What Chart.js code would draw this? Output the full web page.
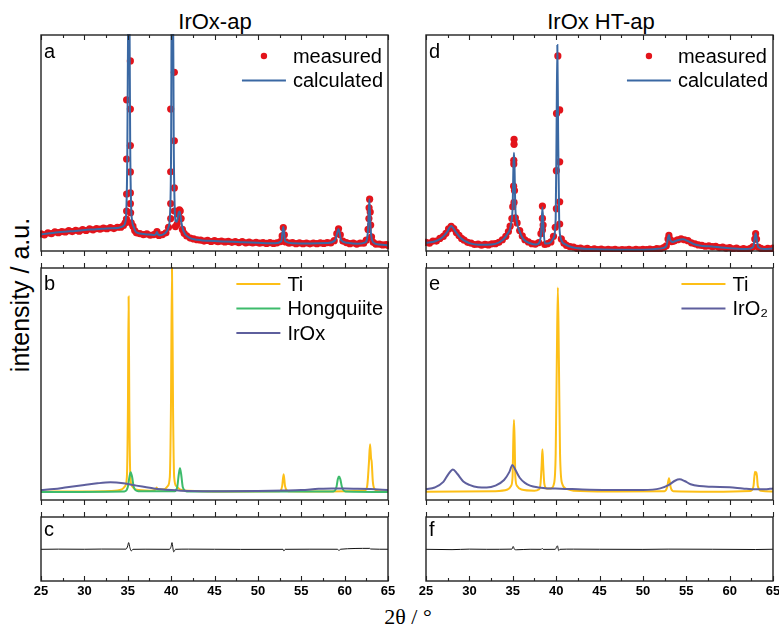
<!DOCTYPE html>
<html>
<head>
<meta charset="utf-8">
<script src="https://cdn.jsdelivr.net/npm/chart.js@4.4.0/dist/chart.umd.min.js"></script>
<style>
  body { margin: 0; background: #fff; }
  #fig { position: relative; width: 779px; height: 627px; overflow: hidden; background: #fff;
         font-family: "Liberation Sans", Arial, sans-serif; color: #000; }
  #fig canvas { position: absolute; }
  .lbl { position: absolute; white-space: nowrap; transform: translate(-50%, -50%); }
</style>
</head>
<body>
<div id="fig">
  <div class="lbl" style="left:215px;top:22px;font-size:22px">IrOx-ap</div>
  <div class="lbl" style="left:601px;top:22px;font-size:22px">IrOx HT-ap</div>
  <div class="lbl" style="left:20px;top:295px;font-size:25px;transform:translate(-50%,-50%) rotate(-90deg)">intensity / a.u.</div>
  <div class="lbl" style="left:408px;top:617px;font-size:22px;font-family:'Liberation Serif','Times New Roman',serif">2θ / °</div>
</div>
<script>
'use strict';

// x axis (2theta, degrees)
const X_MIN = 25, X_MAX = 65;
const TICKS = [25, 27.5, 30, 32.5, 35, 37.5, 40, 42.5, 45, 47.5, 50, 52.5, 55, 57.5, 60, 62.5, 65];

// intensities are given in % of each panel's height

// panel a: IrOx-ap refinement
const measA = [
  [25,7.9],[25.4,7.5],[25.8,8.4],[26.2,8.0],[26.6,8.9],[27,8.5],[27.4,9.0],[27.8,8.8],[28.2,9.4],[28.6,9.0],
  [29,9.6],[29.4,9.2],[29.8,9.9],[30.2,9.5],[30.6,10.2],[31,9.8],[31.4,10.4],[31.8,10.1],[32.2,10.6],[32.6,10.3],
  [33,10.8],[33.4,10.4],[33.8,11.0],[34.2,11.0],[34.5,11.8],[34.7,13],[34.85,14.8],[34.87,18.5],[34.87,26.4],
  [34.87,42.6],[34.87,70],[35.3,88],[35.3,65.7],[35.3,48.8],[35.3,36.6],[35.3,26.9],[35.3,21.9],[35.33,17.7],
  [35.4,13],[35.6,11.5],[35.8,9.5],[36,8.4],[36.4,8.0],[36.8,7.6],[37.2,7.9],[37.6,7.3],[38,7.6],[38.37,9],
  [38.6,7.2],[39,7.6],[39.4,8.4],[39.7,11],[39.95,15],[39.95,22],[39.95,36.7],[39.95,65.7],[40.37,82.7],
  [40.37,51],[40.37,29.2],[40.37,18.5],[40.5,11.3],[40.7,12.5],[40.85,17],[40.95,19],[41.05,18.5],[41.15,15],
  [41.3,10],[41.5,8.2],[41.8,7],[42.2,6.0],[42.6,5.6],[43,5.2],[43.4,5.0],[43.8,4.6],[44.2,4.9],[44.6,4.4],
  [45,4.8],[45.4,4.3],[45.8,4.6],[46.2,4.2],[46.6,4.5],[47,4.0],[47.4,4.3],[47.8,3.9],[48.2,4.3],[48.6,3.8],
  [49,4.1],[49.4,3.7],[49.8,4.0],[50.2,3.6],[50.6,3.9],[51,3.5],[51.4,3.9],[51.8,3.5],[52.2,3.8],[52.6,4.3],
  [52.8,7],[52.93,10.8],[53.05,7.5],[53.2,4.2],[53.6,3.6],[54,3.9],[54.4,3.4],[54.8,3.8],[55.2,3.4],[55.6,3.7],
  [56,3.3],[56.4,3.7],[56.8,3.4],[57.2,3.8],[57.6,3.5],[58,3.9],[58.4,3.7],[58.8,4.8],[59.1,8],[59.3,10.3],
  [59.5,7.5],[59.8,4.6],[60.2,3.9],[60.6,3.4],[61,3.7],[61.4,3.2],[61.8,3.6],[62.2,3.6],[62.5,5],[62.7,10],
  [62.8,15],[62.82,20],[62.88,24],[62.95,18],[63,12],[63.1,6.5],[63.3,4],[63.6,3.2],[64,3.2],[64.4,2.8],
  [64.8,3.0],[65,2.6]
];
const calcA = [
  [25,7.7],[26,8.2],[27,8.7],[28,9.0],[29,9.3],[30,9.7],[31,10.0],[32,10.3],[33,10.5],[34,10.8],[34.5,11.6],
  [34.7,13],[34.85,20],[34.95,45],[35.05,110],[35.12,130],[35.2,110],[35.28,50],[35.38,22],[35.5,14],[35.7,11],
  [36,8.6],[37,7.8],[38,7.4],[38.25,7.8],[38.37,8.8],[38.5,7.6],[38.8,7.3],[39.3,8.2],[39.7,11],[39.92,22],
  [40,50],[40.08,130],[40.2,130],[40.3,50],[40.4,22],[40.5,14],[40.65,13.5],[40.85,17.5],[41,18.3],[41.15,14],
  [41.4,9.5],[42,6.4],[43,5.2],[45,4.6],[48,4.1],[50,3.8],[52,3.6],[52.7,4.5],[52.93,11.2],[53.15,4.5],[54,3.6],
  [56,3.5],[58,3.7],[58.9,5],[59.3,10.2],[59.6,5],[60.3,3.8],[61.5,3.4],[62.4,4],[62.7,10],[62.85,24],[63,10],
  [63.3,4],[64,3.0],[65,2.6]
];

// panel b: phase contributions, IrOx-ap
const tiB = [
  [25,3.6],[30,3.7],[33,3.9],[34.3,4.5],[34.7,6],[34.9,10],[35.02,40],[35.1,87.7],[35.18,40],[35.3,10],[35.5,6],
  [35.9,4.5],[37.5,4.0],[38.2,4.5],[38.33,5.4],[38.45,4.5],[39.2,4.6],[39.6,6],[39.85,10],[39.98,40],[40.1,100],
  [40.22,40],[40.35,10],[40.6,6],[41,4.6],[42,4.0],[46,3.7],[52.5,3.8],[52.8,6],[52.97,11.1],[53.13,6],[53.5,3.8],
  [58,3.7],[62.3,4.0],[62.6,6],[62.8,16],[62.93,24],[63.05,18],[63.12,16.5],[63.25,8],[63.5,4.5],[64,3.8],[65,3.7]
];
const hqB = [
  [25,3.5],[34.6,3.7],[35,5.5],[35.2,10],[35.34,12],[35.5,10],[35.7,5.5],[36.2,3.8],[40.4,3.8],[40.7,5.5],
  [40.88,11],[41.02,13.7],[41.16,11],[41.35,5.5],[41.8,3.7],[58.7,3.7],[59.05,5.5],[59.22,9],[59.35,10.1],
  [59.5,9],[59.7,5.5],[60.1,3.7],[65,3.5]
];
const irB = [
  [25,4.3],[26.5,4.7],[28,5.5],[30,6.5],[31.5,7.2],[33,7.6],[34.5,7.2],[36,6.2],[37,5.6],[38,5.0],[40,4.3],
  [42,3.9],[46,3.8],[50,3.9],[53,4.1],[55,4.3],[57,4.8],[58.5,5.0],[60,5.0],[61.5,4.9],[63,4.7],[65,4.3]
];

// panel c: difference curve, IrOx-ap
const resC = [
  [25,49.5],[27,49.8],[30,49.6],[32,49.9],[34.8,49.8],[35,55],[35.1,60],[35.25,52],[35.4,47],[35.6,49.5],
  [37,49.7],[39.8,49.5],[40,54],[40.1,60],[40.2,52],[40.3,45.5],[40.5,49.5],[42,49.8],[45,49.6],[48,49.4],
  [52.9,49.5],[53,47],[53.15,49.5],[56,49.7],[59.2,49.6],[59.35,47.5],[59.5,49.6],[62.9,51],[63,50],[65,49.6]
];

// panel d: IrOx HT-ap refinement
const measD = [
  [25,4.0],[25.4,3.6],[25.8,4.6],[26.2,4.6],[26.6,5.8],[27,6.8],[27.3,8.2],[27.6,10.2],[27.9,11.4],[28.2,10.4],
  [28.5,8.6],[28.8,7.2],[29.1,5.8],[29.4,5.0],[29.8,4.0],[30.2,3.6],[30.6,3.0],[31,3.2],[31.4,2.7],[31.8,3.1],
  [32.2,2.8],[32.6,3.3],[33,3.4],[33.4,4.0],[33.8,5.2],[34.2,6.8],[34.5,9],[34.7,11.5],[34.9,15],[35,20.5],
  [35.15,22.5],[35.1,30],[35.2,28],[35.12,40.3],[35.12,42],[35.15,49.4],[35.15,51.7],[35.3,15.4],[35.5,13],
  [35.8,9.5],[36.1,7],[36.4,5.2],[36.8,4.2],[37.2,3.4],[37.6,3.2],[38,3.9],[38.25,8],[38.42,9.7],[38.42,15.1],
  [38.42,20.8],[38.5,12],[38.7,3],[39,3.4],[39.4,4.2],[39.7,6.8],[39.9,11],[40.03,19.6],[40.03,37.2],[40.05,63.7],
  [40.2,90.3],[40.41,65.3],[40.41,41.3],[40.41,22.8],[40.41,12.5],[40.6,5.6],[40.9,3.6],[41.2,2.6],[41.6,2.0],
  [42,1.8],[42.4,1.2],[42.8,1.4],[43.2,0.9],[43.6,1.2],[44,0.7],[44.4,1.0],[44.8,0.6],[45.2,0.9],[45.6,0.5],
  [46,0.8],[46.4,0.5],[46.8,0.8],[47.2,0.4],[47.6,0.7],[48,0.5],[48.4,0.8],[48.8,0.4],[49.2,0.8],[49.6,0.5],
  [50,0.8],[50.4,0.6],[50.8,0.9],[51.2,0.7],[51.6,1.1],[52,1.0],[52.4,1.6],[52.7,2.4],[52.9,5.5],[53,7.2],
  [53.1,5.5],[53.3,4.3],[53.6,4.6],[54,5.2],[54.4,5.6],[54.8,5.2],[55.2,4.8],[55.6,3.8],[56,3.3],[56.4,2.8],
  [56.8,2.6],[57.2,2.2],[57.6,2.4],[58,2.0],[58.4,2.2],[58.8,1.6],[59.2,1.8],[59.6,1.3],[60,1.6],[60.4,1.0],
  [60.8,1.3],[61.2,0.8],[61.6,1.1],[62,0.8],[62.4,1.2],[62.7,2.0],[62.9,5.5],[63,8],[63.1,5.5],[63.3,1.8],
  [63.6,1.2],[64,0.8],[64.4,1.2],[64.8,0.9],[65,1.3]
];
const calcD = [
  [25,3.8],[26,4.4],[26.8,6],[27.4,8.6],[27.9,11.6],[28.4,9],[29,6],[29.6,4.4],[30.2,3.4],[31,2.9],[32,2.9],
  [33,3.3],[33.8,5],[34.4,8],[34.8,12.5],[35,22],[35.08,40],[35.14,45.5],[35.2,40],[35.28,22],[35.45,14],
  [35.8,9],[36.2,5.6],[37,3.6],[37.7,3.0],[38.1,4.2],[38.3,10],[38.42,20.2],[38.55,10],[38.7,3.5],[39.2,3.6],
  [39.7,6],[39.95,15],[40.05,55],[40.14,95.4],[40.23,55],[40.35,15],[40.5,6.5],[41,3.2],[42,1.6],[44,0.9],
  [47,0.6],[50,0.6],[52,1.1],[52.7,2.2],[52.9,6],[53,7.4],[53.15,5],[53.4,4.2],[54,5],[54.6,5.4],[55.2,4.6],
  [56,3],[57,2.3],[58,2.1],[59,1.6],[60,1.3],[62,0.9],[62.7,1.8],[62.9,6],[63,8.2],[63.1,6],[63.3,1.8],
  [64,0.9],[65,1.2]
];

// panel e: phase contributions, IrOx HT-ap
const tiE = [
  [25,3.6],[33,3.8],[34.4,4.5],[34.8,6],[34.98,10],[35.06,25],[35.14,34.5],[35.22,25],[35.3,10],[35.5,6],[36,4.5],
  [37.5,4.0],[38,4.5],[38.2,7],[38.33,15],[38.42,21.9],[38.51,15],[38.64,7],[38.9,5],[39.4,5],[39.75,7],
  [39.95,20],[40.08,60],[40.2,91.6],[40.32,60],[40.45,20],[40.7,7],[41.2,4.8],[42,4.0],[46,3.7],[52.5,3.8],
  [52.8,5.5],[53.01,9.4],[53.2,5.5],[53.5,3.8],[58,3.6],[62.4,3.9],[62.75,6],[62.92,12.2],[63.03,11],[63.1,12],
  [63.25,6],[63.6,4],[65,3.7]
];
const irE = [
  [25,4.6],[26,5.4],[27,7.8],[27.6,11.3],[28.1,13.2],[28.6,11.3],[29.3,8],[30,6.5],[31,5.5],[32,5.4],[33,6.2],
  [34,8.6],[34.6,12],[34.96,15.1],[35.3,13],[35.8,9.6],[36.4,7.4],[37,6.2],[38,5.4],[39,5.0],[40.5,4.9],
  [43,4.5],[46,4.3],[50,4.3],[52,5.0],[53,6.5],[53.7,8.3],[54.24,8.9],[54.8,8.2],[55.5,6.8],[56.5,6.0],
  [58,5.7],[60,5.5],[61.5,5.0],[63,4.6],[64,4.6],[65,5.0]
];

// panel f: difference curve, IrOx HT-ap
const resF = [
  [25,49.5],[28,49.0],[30,49.8],[32,49.5],[34.9,49.8],[35.05,54],[35.2,49.5],[35.4,48.8],[37,49.6],[38.3,49.5],
  [38.4,51],[38.5,49.4],[39.9,49.5],[40.05,53],[40.15,55],[40.3,47.5],[40.45,49.5],[42,49.8],[45,49.6],
  [50,49.4],[53,49.8],[58,49.6],[63,49.2],[65,49.6]
];

const RED = '#e3141b', BLUE = '#3a68a3', YELLOW = '#fdbf17', GREEN = '#3dbb6b', PURPLE = '#5e5f9d';
const FRAME = '#222';

// frame, ticks, panel letter and legend
const panelDeco = {
  id: 'panelDeco',
  afterDraw(chart, args, o) {
    const { ctx, chartArea: a, scales: { x } } = chart;
    ctx.save();
    ctx.strokeStyle = FRAME;
    ctx.lineWidth = 1.4;
    ctx.strokeRect(a.left, a.top, a.right - a.left, a.bottom - a.top);
    ctx.lineWidth = 1.1;
    ctx.beginPath();
    TICKS.forEach(v => {
      const px = Math.round(x.getPixelForValue(v)) + 0.5;
      const len = v % 5 === 0 ? 5 : 3;
      const topDir = o.top === 'in' ? 1 : -1;
      const botDir = o.bottom === 'in' ? -1 : 1;
      ctx.moveTo(px, a.top); ctx.lineTo(px, a.top + topDir * len);
      ctx.moveTo(px, a.bottom); ctx.lineTo(px, a.bottom + botDir * len);
    });
    ctx.stroke();

    ctx.fillStyle = '#000';
    ctx.font = '20px "Liberation Sans", Arial, sans-serif';
    ctx.textBaseline = 'middle';
    ctx.textAlign = 'left';
    ctx.fillText(o.letter, a.left + 3, a.top + o.letterY);

    const items = chart.data.datasets.filter(d => d.label);
    if (items.length) {
      const w = Math.max(...items.map(d => ctx.measureText(d.label).width));
      const tx = a.right - 5 - w;
      items.forEach((d, i) => {
        const y = a.top + o.legendY + i * 24.5;
        if (d.showLine) {
          ctx.strokeStyle = d.borderColor;
          ctx.lineWidth = 2;
          ctx.beginPath(); ctx.moveTo(tx - 51, y); ctx.lineTo(tx - 7, y); ctx.stroke();
        } else {
          ctx.fillStyle = d.backgroundColor;
          ctx.beginPath(); ctx.arc(tx - 29, y, 3.2, 0, Math.PI * 2); ctx.fill();
        }
        ctx.fillStyle = '#000';
        ctx.fillText(d.label, tx, y + 1);
      });
    }
    ctx.restore();
  }
};

function dotSet(label, data) {
  return { label, data, showLine: false, backgroundColor: RED, borderColor: RED, pointRadius: 3.6,
           pointBorderWidth: 0, order: 2, clip: 1 };
}
function lineSet(label, data, color, width, order) {
  return { label, data, showLine: true, borderColor: color, backgroundColor: color, borderWidth: width,
           pointRadius: 0, cubicInterpolationMode: 'monotone', order: order || 0, clip: 1 };
}

function panel(left, top, w, h, withAxis, datasets, deco) {
  const pad = 6, side = 20, axisH = 30;
  const cv = document.createElement('canvas');
  const cw = w + 2 * side, ch = h + pad + (withAxis ? axisH : pad);
  cv.width = cw; cv.height = ch;
  cv.style.left = (left - side) + 'px';
  cv.style.top = (top - pad) + 'px';
  cv.style.width = cw + 'px'; cv.style.height = ch + 'px';
  document.getElementById('fig').appendChild(cv);
  const xScale = {
    min: X_MIN, max: X_MAX, display: withAxis,
    grid: { display: false, drawTicks: false }, border: { display: false },
    ticks: { stepSize: 5, padding: 3, color: '#000', maxRotation: 0,
             font: { family: '"Liberation Sans", Arial, sans-serif', size: 13, weight: 'bold' } }
  };
  if (withAxis) xScale.afterFit = s => { s.height = axisH; };
  new Chart(cv, {
    type: 'scatter',
    data: { datasets },
    options: {
      responsive: false,
      animation: false,
      devicePixelRatio: 1,
      layout: { padding: { left: side, right: side, top: pad, bottom: withAxis ? 0 : pad } },
      scales: { x: xScale, y: { min: 0, max: 100, display: false } },
      plugins: { legend: { display: false }, tooltip: { enabled: false }, panelDeco: deco }
    },
    plugins: [panelDeco]
  });
}

const LX = 41, RX = 426, PW = 347;
const ROW1 = [35, 216], ROW2 = [268, 232], ROW3 = [517, 64];

panel(LX, ROW1[0], PW, ROW1[1], false,
  [dotSet('measured', measA), lineSet('calculated', calcA, BLUE, 2)],
  { letter: 'a', letterY: 17, legendY: 21, top: 'in', bottom: 'out' });
panel(LX, ROW2[0], PW, ROW2[1], false,
  [lineSet('Ti', tiB, YELLOW, 2, 2), lineSet('Hongquiite', hqB, GREEN, 2, 1), lineSet('IrOx', irB, PURPLE, 2, 0)],
  { letter: 'b', letterY: 16, legendY: 16, top: 'out', bottom: 'out' });
panel(LX, ROW3[0], PW, ROW3[1], true,
  [lineSet(null, resC, '#111', 1)],
  { letter: 'c', letterY: 13, legendY: 0, top: 'out', bottom: 'in' });

panel(RX, ROW1[0], PW, ROW1[1], false,
  [dotSet('measured', measD), lineSet('calculated', calcD, BLUE, 2)],
  { letter: 'd', letterY: 17, legendY: 21, top: 'in', bottom: 'out' });
panel(RX, ROW2[0], PW, ROW2[1], false,
  [lineSet('Ti', tiE, YELLOW, 2, 1), lineSet('IrO₂', irE, PURPLE, 2, 0)],
  { letter: 'e', letterY: 16, legendY: 16, top: 'out', bottom: 'out' });
panel(RX, ROW3[0], PW, ROW3[1], true,
  [lineSet(null, resF, '#111', 1)],
  { letter: 'f', letterY: 13, legendY: 0, top: 'out', bottom: 'in' });
</script>
</body>
</html>
